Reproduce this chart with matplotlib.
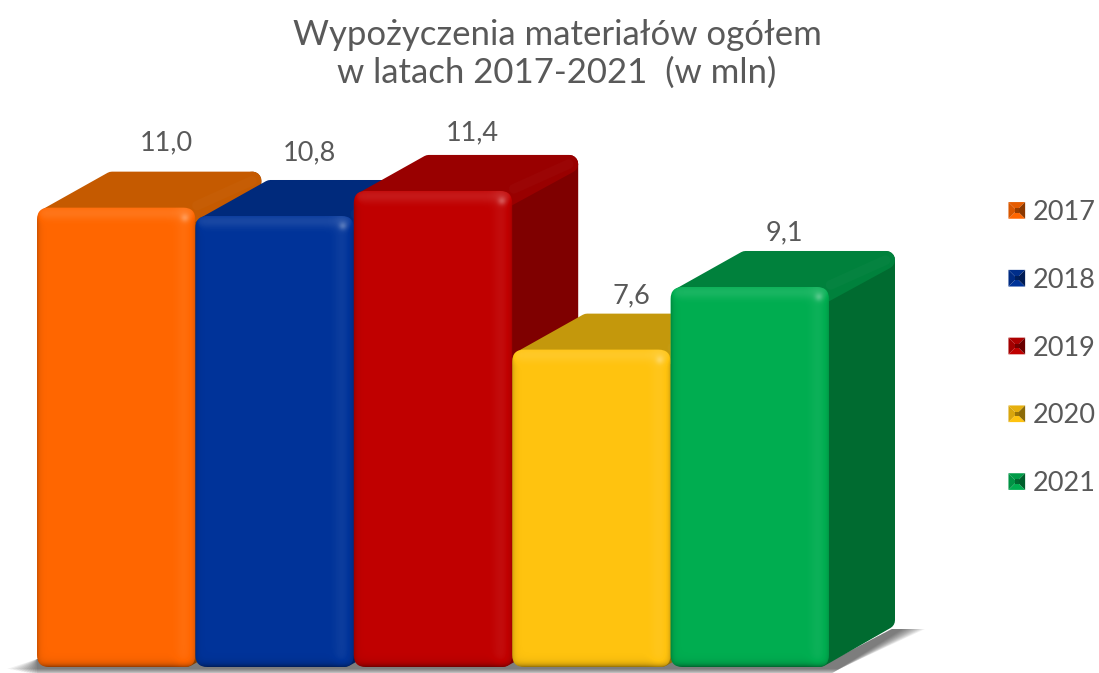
import numpy as np
import matplotlib
matplotlib.use("Agg")
import matplotlib.pyplot as plt
from matplotlib.patches import FancyBboxPatch, Polygon, Patch, Rectangle
from matplotlib.legend_handler import HandlerBase
from matplotlib.colors import to_rgb

years = ["2017", "2018", "2019", "2020", "2021"]
values = [11.0, 10.8, 11.4, 7.6, 9.1]
value_labels = ["11,0", "10,8", "11,4", "7,6", "9,1"]
front_colors = ["#FF6600", "#003399", "#C00000", "#FFC30F", "#00AD50"]
top_colors = ["#C55A00", "#002A7C", "#990000", "#C4980C", "#00813C"]
side_colors = ["#8A4000", "#001F5C", "#7F0000", "#8F6F08", "#006B30"]
label_dx = [50, 35, 39, 40, 35]
label_dy = [65, 63, 58, 54, 54]
title = "Wypożyczenia materiałów ogółem\nw latach 2017-2021  (w mln)"

W, H = 1099, 673
PX_X, PX_Y = 158.4, 41.76      # pixels per category / per unit
LEFT, BASE = 37.0, 667.0
DX, DY = 66 / PX_X, 36 / PX_Y  # 3-D depth in data units
TEXT = "#595959"

plt.rcParams["font.family"] = ["Lato", "DejaVu Sans"]
fig = plt.figure(figsize=(W / 100, H / 100), dpi=100)
ax = fig.add_axes([0, 0, 1, 1])
xlim = (-0.5 - LEFT / PX_X, -0.5 + (W - LEFT) / PX_X)
ylim = (-(H - BASE) / PX_Y, BASE / PX_Y)
ax.axis("off")


def shaded(c, f):
    r = np.array(to_rgb(c))
    return tuple(np.clip(r * f if f <= 1 else r + (1 - r) * (f - 1), 0, 1))


# floor shadow: stacked translucent layers give a soft edge
n = len(values)
xr = n - 0.5
for k in range(12):
    g = k / 11
    pts = [(-0.5 - 30 * (1 - g) / PX_X, -(2 + 6 * g) / PX_Y),
           (xr + 10 * (1 - g) / PX_X, -(2 + 6 * g) / PX_Y),
           (xr + DX + (30 - 22 * g) / PX_X, 38 / PX_Y),
           (xr + DX - 0.02, 38 / PX_Y),
           (xr, 5 / PX_Y), (-0.5, 8 / PX_Y)]
    ax.add_patch(Polygon(pts, closed=True, fc="#000000", ec="none", alpha=0.055, zorder=1))

rx = 12 / PX_X
ins_x, ins_y = 9 / PX_X, 9 / PX_Y
lw_round = 18 * 0.72
for i, (v, fc, tc, sc) in enumerate(zip(values, front_colors, top_colors, side_colors)):
    x0, x1 = i - 0.5, i + 0.5
    z = 2 + i
    # side face
    ax.add_patch(Polygon([(x1 - ins_x, v - ins_y), (x1 + DX - ins_x, v + DY - ins_y),
                          (x1 + DX - ins_x, DY * 1.05 + ins_y), (x1 - ins_x, ins_y)],
                         closed=True, fc=sc, ec=sc, lw=lw_round, joinstyle="round", zorder=z))
    # top face
    ax.add_patch(Polygon([(x0 + 1.2 * ins_x, v - ins_y), (x0 + DX + ins_x, v + DY - ins_y),
                          (x1 + DX - ins_x, v + DY - ins_y), (x1 - ins_x, v - ins_y)],
                         closed=True, fc=tc, ec=tc, lw=lw_round, joinstyle="round", zorder=z))
    # soft highlight along the edge between top and side
    ax.plot([x1 + 0.01, x1 + DX - 0.06], [v + 0.05, v + DY - 0.22],
            color=shaded(tc, 1.04), lw=7, alpha=0.5, solid_capstyle="round", zorder=z)
    # front face with bevel shading
    front = FancyBboxPatch((x0, 0), 1, v, boxstyle=f"round,pad=0,rounding_size={rx}",
                           mutation_aspect=PX_X / PX_Y, fc=fc, ec="none", zorder=z + 0.1)
    ax.add_patch(front)
    w_px, h_px = int(PX_X), int(v * PX_Y)
    xx = np.arange(w_px)[None, :] + 0.5
    yy = np.arange(h_px)[:, None] + 0.5
    lum = np.zeros((h_px, w_px))
    lum += 0.10 * np.exp(-((yy - 6) / 7) ** 2)                 # top highlight
    lum += 0.05 * np.exp(-((xx - (w_px - 12)) / 8) ** 2)       # right highlight
    lum -= 0.22 * np.exp(-xx / 2.5)                            # left dark edge
    lum -= 0.45 * np.exp(-(h_px - yy) / 3.0)                   # bottom dark edge
    lum -= 0.22 * np.exp(-(w_px - xx) / 2.5)                   # right dark edge
    lum += 0.22 * np.exp(-(((xx - (w_px - 11)) / 4) ** 2 + ((yy - 11) / 4) ** 2))  # corner glint
    rgba = np.zeros((h_px, w_px, 4))
    rgba[..., :3] = (lum > 0)[..., None] * 1.0
    rgba[..., 3] = np.clip(np.abs(lum), 0, 1)
    im = ax.imshow(rgba, extent=(x0, x1, 0, v), origin="upper", aspect="auto",
                   zorder=z + 0.2, interpolation="bilinear")
    im.set_clip_path(front)
    # value label
    ax.annotate(value_labels[i], (i, v), xytext=(label_dx[i], label_dy[i]),
                textcoords="offset pixels", ha="center", va="center",
                fontsize=19.5, color=TEXT, zorder=20)

ax.set_xlim(*xlim)
ax.set_ylim(*ylim)

fig.text(557 / W, 1 - 54 / H, title, ha="center", va="center", fontsize=25,
         color=TEXT, linespacing=1.2)


class BevelHandler(HandlerBase):
    def create_artists(self, legend, orig, xd, yd, width, height, fontsize, trans):
        c = orig.get_facecolor()
        s = 12
        cx, cy = width / 2 - xd, height / 2 - yd
        l, r, b, t = cx - s / 2, cx + s / 2, cy - s / 2, cy + s / 2
        m = (cx, cy)
        tris = [([(l, t), (r, t), m], 0.9), ([(l, b), (r, b), m], 1.0),
                ([(l, b), (l, t), m], 0.85), ([(r, b), (r, t), m], 0.55)]
        arts = [Polygon(pts, closed=True, fc=shaded(c, f), ec="none", transform=trans)
                for pts, f in tris]
        arts.append(Rectangle((cx - 1.6, cy - 1.6), 3.2, 3.2, fc=shaded(c, 0.6), ec="none",
                              transform=trans))
        return arts


handles = [Patch(facecolor=c, label=y) for c, y in zip(front_colors, years)]
leg = ax.legend(handles=handles, loc="center left",
                bbox_to_anchor=(1008 / W, 1 - 348 / H), bbox_transform=fig.transFigure,
                frameon=False, fontsize=19.5, labelcolor=TEXT,
                handler_map={Patch: BevelHandler()}, handlelength=0.65, handleheight=0.65,
                handletextpad=0.25, labelspacing=1.58, borderpad=0, borderaxespad=0)
leg.set_zorder(30)

fig.savefig("out.png", dpi=100, facecolor="white")
